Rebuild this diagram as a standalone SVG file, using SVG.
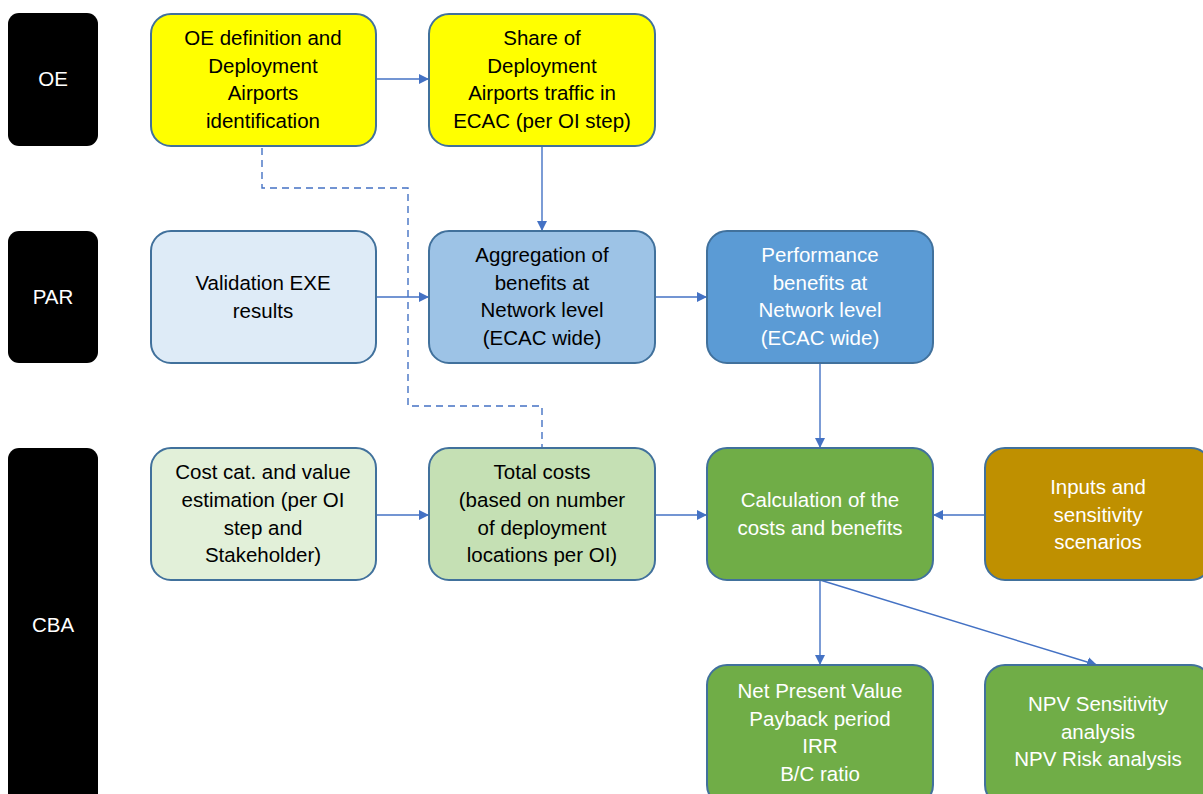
<svg xmlns="http://www.w3.org/2000/svg" width="1203" height="794" viewBox="0 0 1203 794">
<style>
.lab{fill:#000;}
.box{stroke:#41719C;stroke-width:2;}
text{font-family:"Liberation Sans",Arial,sans-serif;font-size:20.5px;text-anchor:middle;}
.w{fill:#fff;}
.b{fill:#000;}
.con{stroke:#4472C4;stroke-width:1.4;fill:none;}
</style>
<defs>
<marker id="ah" viewBox="0 0 10 10" refX="10" refY="5" markerWidth="10" markerHeight="10" markerUnits="userSpaceOnUse" orient="auto">
<path d="M0,0 L10,5 L0,10 z" fill="#4472C4"/>
</marker>
</defs>
<rect width="1203" height="794" fill="#fff"/>
<g id="lane-oe"><rect class="lab" x="8" y="13" width="90" height="133" rx="11"/><text class="w" x="53" y="86">OE</text></g>
<g id="lane-par"><rect class="lab" x="8" y="231" width="90" height="132" rx="11"/><text class="w" x="53" y="304">PAR</text></g>
<g id="lane-cba"><rect class="lab" x="8" y="448" width="90" height="360" rx="11"/><text class="w" x="53" y="632">CBA</text></g>

<g id="connectors">
<path class="con" d="M262,148 V188 H408 V406 H542 V448" stroke-dasharray="7,5"/>
<line class="con" x1="376" y1="79" x2="429" y2="79" marker-end="url(#ah)"/>
<line class="con" x1="542" y1="146" x2="542" y2="231" marker-end="url(#ah)"/>
<line class="con" x1="376" y1="297" x2="429" y2="297" marker-end="url(#ah)"/>
<line class="con" x1="655" y1="297" x2="707" y2="297" marker-end="url(#ah)"/>
<line class="con" x1="820" y1="363" x2="820" y2="448" marker-end="url(#ah)"/>
<line class="con" x1="376" y1="515" x2="429" y2="515" marker-end="url(#ah)"/>
<line class="con" x1="655" y1="515" x2="707" y2="515" marker-end="url(#ah)"/>
<line class="con" x1="985" y1="515" x2="933" y2="515" marker-end="url(#ah)"/>
<line class="con" x1="820" y1="580" x2="820" y2="665" marker-end="url(#ah)"/>
<line class="con" x1="820" y1="580" x2="1097" y2="665" marker-end="url(#ah)"/>
</g>

<g id="oe-def"><rect class="box" x="151" y="14" width="225" height="132" rx="20" fill="#FFFF00"/>
<text class="b"><tspan x="263" y="45">OE definition and</tspan><tspan x="263" y="73">Deployment</tspan><tspan x="263" y="100">Airports</tspan><tspan x="263" y="128">identification</tspan></text></g>
<g id="share"><rect class="box" x="429" y="14" width="226" height="132" rx="20" fill="#FFFF00"/>
<text class="b"><tspan x="542" y="45">Share of</tspan><tspan x="542" y="73">Deployment</tspan><tspan x="542" y="100">Airports traffic in</tspan><tspan x="542" y="128">ECAC (per OI step)</tspan></text></g>

<g id="validation"><rect class="box" x="151" y="231" width="225" height="132" rx="20" fill="#DEEBF7"/>
<text class="b"><tspan x="263" y="290">Validation EXE</tspan><tspan x="263" y="318">results</tspan></text></g>
<g id="aggregation"><rect class="box" x="429" y="231" width="226" height="132" rx="20" fill="#9DC3E6"/>
<text class="b"><tspan x="542" y="262">Aggregation of</tspan><tspan x="542" y="290">benefits at</tspan><tspan x="542" y="317">Network level</tspan><tspan x="542" y="345">(ECAC wide)</tspan></text></g>
<g id="performance"><rect class="box" x="707" y="231" width="226" height="132" rx="20" fill="#5B9BD5"/>
<text class="w"><tspan x="820" y="262">Performance</tspan><tspan x="820" y="290">benefits at</tspan><tspan x="820" y="317">Network level</tspan><tspan x="820" y="345">(ECAC wide)</tspan></text></g>

<g id="costcat"><rect class="box" x="151" y="448" width="225" height="132" rx="20" fill="#E2F0D9"/>
<text class="b"><tspan x="263" y="479">Cost cat. and value</tspan><tspan x="263" y="507">estimation (per OI</tspan><tspan x="263" y="535">step and</tspan><tspan x="263" y="562">Stakeholder)</tspan></text></g>
<g id="totalcosts"><rect class="box" x="429" y="448" width="226" height="132" rx="20" fill="#C5E0B4"/>
<text class="b"><tspan x="542" y="479">Total costs</tspan><tspan x="542" y="507">(based on number</tspan><tspan x="542" y="535">of deployment</tspan><tspan x="542" y="562">locations per OI)</tspan></text></g>
<g id="calc"><rect class="box" x="707" y="448" width="226" height="132" rx="20" fill="#70AD47"/>
<text class="w"><tspan x="820" y="507">Calculation of the</tspan><tspan x="820" y="535">costs and benefits</tspan></text></g>
<g id="inputs"><rect class="box" x="985" y="448" width="226" height="132" rx="20" fill="#BF9000"/>
<text class="w"><tspan x="1098" y="494">Inputs and</tspan><tspan x="1098" y="522">sensitivity</tspan><tspan x="1098" y="549">scenarios</tspan></text></g>

<g id="npv"><rect class="box" x="707" y="665" width="226" height="140" rx="20" fill="#70AD47"/>
<text class="w"><tspan x="820" y="698">Net Present Value</tspan><tspan x="820" y="726">Payback period</tspan><tspan x="820" y="753">IRR</tspan><tspan x="820" y="781">B/C ratio</tspan></text></g>
<g id="npvsens"><rect class="box" x="985" y="665" width="226" height="140" rx="20" fill="#70AD47"/>
<text class="w"><tspan x="1098" y="711">NPV Sensitivity</tspan><tspan x="1098" y="739">analysis</tspan><tspan x="1098" y="766">NPV Risk analysis</tspan></text></g>
</svg>
